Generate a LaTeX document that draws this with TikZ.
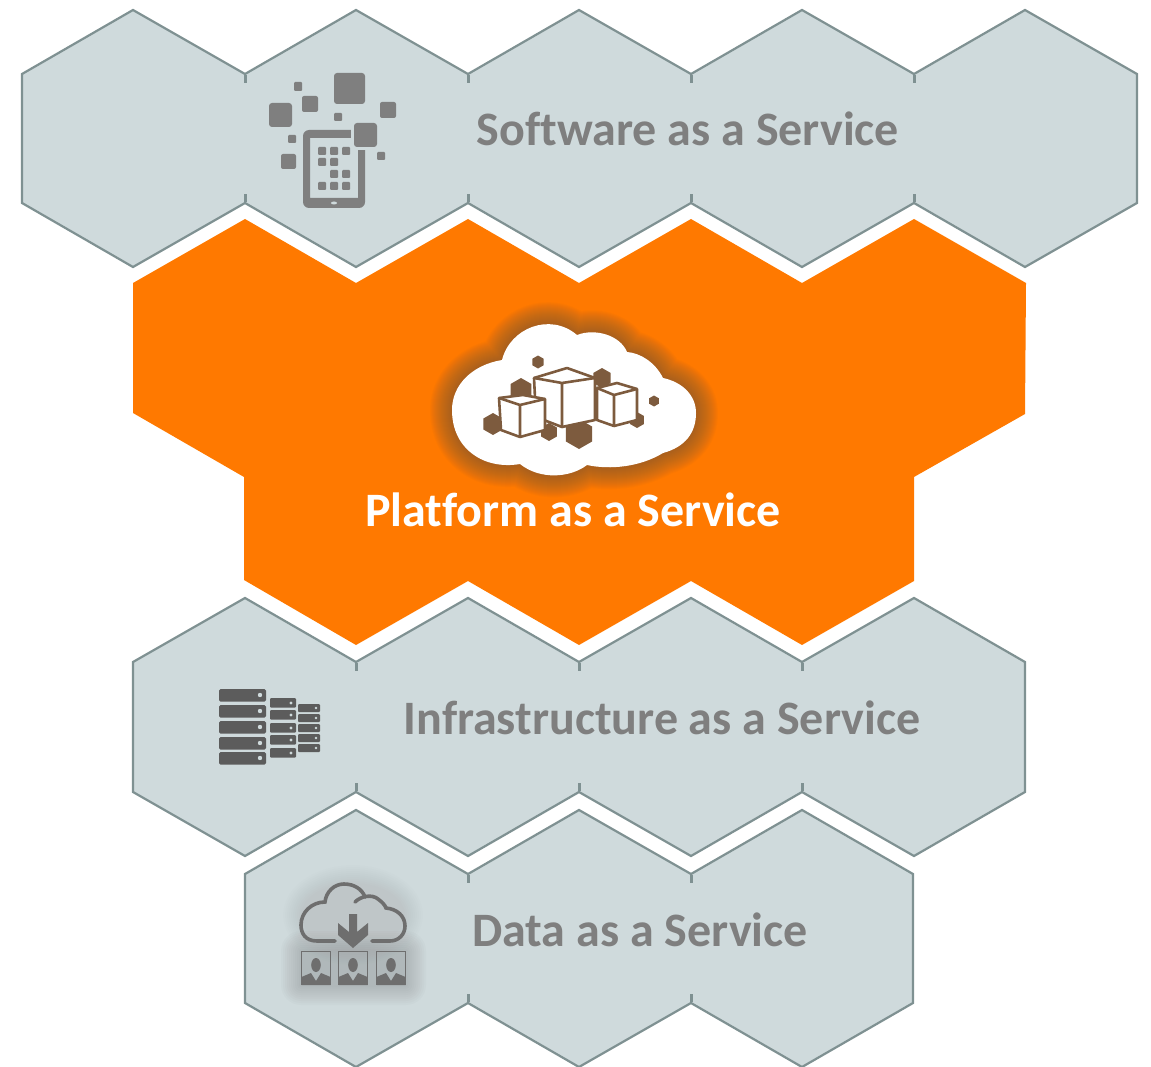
\documentclass[tikz,border=0pt]{standalone}
\usepackage{fontspec}
\setmainfont[Ligatures=NoCommon]{Carlito}
\usepackage{tikz}

\definecolor{hexfill}{HTML}{CFDADC}
\definecolor{hexline}{HTML}{7F9192}
\definecolor{paasorange}{HTML}{FF7900}
\definecolor{labelgray}{HTML}{7F7F7F}
\definecolor{icongray}{HTML}{7F7F7F}
\definecolor{dataicon}{HTML}{6E6E6E}
\definecolor{rackgray}{HTML}{5C5C5C}
\definecolor{cratebrown}{HTML}{7D5B3E}

\tikzset{
hexrow/.style={fill=hexfill, draw=hexline, line width=2.2pt, line join=miter},
hexstub/.style={draw=hexline, line width=3pt},
rowlabel/.style={font=\fontsize{48}{54}\selectfont\bfseries, text=labelgray, inner sep=0pt},
crate/.style={draw=cratebrown, line width=2.6pt, line join=round},
}

\newcommand{\paascloud}{(502,360) .. controls (510,328) and (550,312) .. (577,335) .. controls (595,328) and (620,335) .. (627,352) .. controls (640,353) and (655,362) .. (663,378) .. controls (682,382) and (696,395) .. (696,413) .. controls (696,433) and (685,447) .. (663,453) .. controls (640,467) and (610,470) .. (587,465) .. controls (570,478) and (540,480) .. (520,464) .. controls (485,470) and (452,450) .. (452,410) .. controls (452,385) and (472,365) .. (502,360) -- cycle}

\begin{document}
\begin{tikzpicture}[x=1pt, y=-1pt]

\useasboundingbox (0,0) rectangle (1151,1067);

% software row
\draw[hexrow] (22,74) -- (133,10) -- (245,74) -- (356,10) -- (468,74) -- (579,10) -- (691,74) -- (802,10) -- (914,74) -- (1025,10) -- (1137,74) -- (1137,203) -- (1025,267) -- (914,203) -- (802,267) -- (691,203) -- (579,267) -- (468,203) -- (356,267) -- (245,203) -- (133,267) -- (22,203) -- cycle;
\foreach \x in {245, 468, 691, 914} {
\draw[hexstub] (\x,75) -- (\x,83);
\draw[hexstub] (\x,202) -- (\x,194);
}

% platform row
\fill[paasorange] (133,283) -- (245,219) -- (356,283) -- (468,219) -- (579,283) -- (691,219) -- (802,283) -- (914,219) -- (1026,283) -- (1025,414) -- (914,477) -- (914,581) -- (802,645) -- (691,581) -- (579,645) -- (468,581) -- (356,645) -- (244,580) -- (244,477) -- (133,413) -- cycle;

% infrastructure row
\draw[hexrow] (133,662) -- (245,598) -- (356,662) -- (468,598) -- (579,662) -- (691,598) -- (802,662) -- (914,598) -- (1025,662) -- (1025,792) -- (914,856) -- (802,792) -- (691,856) -- (579,792) -- (468,856) -- (356,792) -- (245,856) -- (133,792) -- cycle;
\foreach \x in {356, 579, 802} {
\draw[hexstub] (\x,663) -- (\x,671);
\draw[hexstub] (\x,791) -- (\x,783);
}

% data row
\draw[hexrow] (245,874) -- (356,810) -- (468,874) -- (579,810) -- (691,874) -- (802,810) -- (913,874) -- (913,1003) -- (802,1067) -- (691,1003) -- (579,1067) -- (468,1003) -- (356,1067) -- (245,1003) -- cycle;
\foreach \x in {468, 691} {
\draw[hexstub] (\x,875) -- (\x,883);
\draw[hexstub] (\x,1002) -- (\x,994);
}

% software icon
\foreach \xa/\ya/\xb/\yb/\r in {334/73/365/104/3, 269/103/292/127/3, 302/96/318/112/2, 294/82/302/91/1, 380/102/396/118/2, 334/113/342/121/1, 288/135/296/143/1, 281/154/296/169/2, 377/152/385/160/1} {
\fill[icongray, rounded corners=\r pt] (\xa,\ya) rectangle (\xb,\yb);
}
\fill[icongray, rounded corners=6pt, even odd rule] (303,130) rectangle (365,208) [sharp corners] (310,138) rectangle (358,198);
\fill[hexfill] (351,120) rectangle (380,150);
\fill[icongray, rounded corners=3pt] (354,123) rectangle (377,147);
\foreach \x/\y in {318/147, 330/147, 342/147, 318/158, 330/158, 330/170, 342/170, 318/182, 330/182, 342/182} {
\fill[icongray, rounded corners=1pt] (\x,\y) rectangle (\x+8,\y+8);
}
\fill[hexfill] (334,203) ellipse (3 and 1.5);

% platform icon
\foreach \w in {44, 42, ..., 2} {
\draw[cratebrown, line width=\w pt, opacity=0.04, line join=round] \paascloud;
}
\fill[white] \paascloud;
\foreach \x/\y/\r in {538/362/6.5, 654/401/5.5, 493/424/11, 521/390/12, 602/378/10, 549/432/9, 579/434/15, 637/420/8} {
\fill[cratebrown] (\x,\y-\r) -- (\x+0.87*\r,\y-0.5*\r) -- (\x+0.87*\r,\y+0.5*\r) -- (\x,\y+\r) -- (\x-0.87*\r,\y+0.5*\r) -- (\x-0.87*\r,\y-0.5*\r) -- cycle;
}
\draw[crate, fill=white] (597,388) -- (617,383) -- (637,389) -- (637,420) -- (614,426) -- (597,420) -- cycle;
\draw[crate] (597,388) -- (614,395) -- (637,389) (614,395) -- (614,426);
\draw[crate, fill=white] (534,378) -- (567,368) -- (595,378) -- (595,420) -- (562,427) -- (536,417) -- cycle;
\draw[crate] (534,378) -- (562,383) -- (595,378) (562,383) -- (562,427);
\draw[crate, fill=white] (499,398) -- (523,395) -- (545,399) -- (545,430) -- (520,437) -- (501,430) -- cycle;
\draw[crate] (499,398) -- (520,405) -- (545,399) (520,405) -- (520,437);

% infrastructure icon
\foreach \y in {689, 705, 721, 737, 752} {
\fill[rackgray, rounded corners=1.5pt] (219,\y) rectangle (266,\y+12.5);
\fill[hexfill] (260,\y+6) circle (2.2);
}
\foreach \y in {698, 710, 723, 735, 748} {
\fill[rackgray, rounded corners=1pt] (270,\y) rectangle (296,\y+9.5);
\fill[hexfill] (291,\y+5) circle (1.7);
}
\foreach \y in {704, 714, 724, 734, 744} {
\fill[rackgray, rounded corners=1pt] (298,\y) rectangle (320,\y+8);
\fill[hexfill] (316,\y+4) circle (1.3);
}

% data icon
\foreach \w in {20, 18, ..., 2} {
\fill[dataicon, opacity=0.03, rounded corners=\w pt] (301-\w,951-\w) rectangle (406+\w,985+\w);
\fill[dataicon, opacity=0.012] (353,915) ellipse ({50+\w} and {30+\w});
}
\draw[dataicon, line width=3.6pt, line cap=round] (335,941) -- (317,941) .. controls (305,941) and (301,933) .. (301,925) .. controls (301,912) and (312,902) .. (325,902) .. controls (326,892) and (334,884) .. (344,884) .. controls (354,884) and (362,889) .. (365,897);
\draw[dataicon, line width=3.6pt, line cap=round] (355,902) .. controls (361,896) and (372,894) .. (378,899) .. controls (382,902) and (385,905) .. (386,908) .. controls (397,909) and (405,916) .. (405,926) .. controls (405,934) and (399,941) .. (390,941) -- (372,941);
\fill[dataicon] (349,914) -- (357,914) -- (357,932) -- (368,923) -- (368,935) -- (353,948) -- (338,935) -- (338,923) -- (349,932) -- cycle;
\foreach \x in {316, 353, 391} {
\draw[dataicon, line width=1.6pt] (\x-14.5,951.5) rectangle (\x+14.5,984.5);
\fill[dataicon] (\x,965) ellipse (4.8 and 7);
\fill[dataicon] (\x-14.5,985) -- (\x-14.5,977) -- (\x-5,973) -- (\x,981) -- (\x+5,973) -- (\x+14.5,977) -- (\x+14.5,985) -- cycle;
}

\node[rowlabel] (saas) at (688,129) {Software as a Service};
\node[rowlabel, text=white] (paas) at (573,510) {Platform as a Service};
\node[rowlabel] (iaas) at (662,718) {Infrastructure as a Service};
\node[rowlabel] (daas) at (640,930) {Data as a Service};

\end{tikzpicture}
\end{document}
